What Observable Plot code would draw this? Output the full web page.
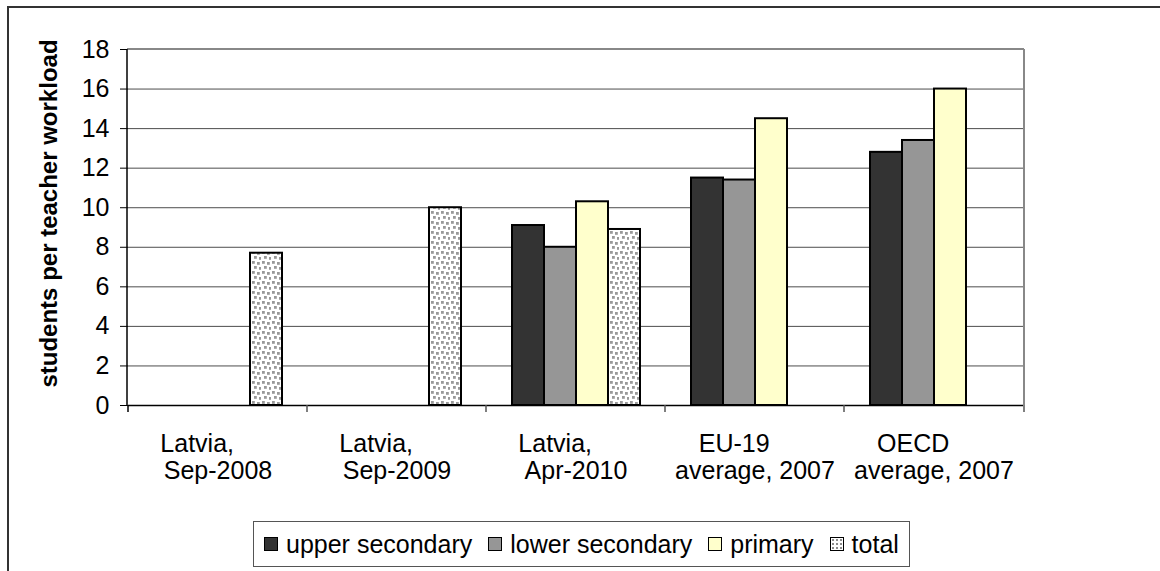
<!DOCTYPE html>
<html><head><meta charset="utf-8">
<script src="https://cdn.jsdelivr.net/npm/d3@7"></script>
<script src="https://cdn.jsdelivr.net/npm/@observablehq/plot@0.6"></script>
<style>
html,body{margin:0;padding:0;background:#fff;overflow:hidden;width:1160px;height:571px;}
body{font-family:"Liberation Sans",Arial,sans-serif;position:relative;color:#000;}
#chart{position:absolute;left:0;top:0;}
#outer{position:absolute;left:7px;top:6px;width:1300px;height:700px;border:2px solid #333;box-sizing:border-box;pointer-events:none;}
#legend{position:absolute;left:253px;top:521px;height:46px;box-sizing:border-box;border:1px solid #555;background:#fff;display:flex;align-items:center;padding:0 10px;font-size:25px;white-space:nowrap;}
#legend .item{display:flex;align-items:center;margin-right:16px;}
#legend .item:last-child{margin-right:0;}
#legend .sw{width:14px;height:14px;box-sizing:border-box;border:1.5px solid #000;margin-right:8px;}
</style></head><body>
<div id="chart"></div>
<div id="legend"></div>
<div id="outer"></div>
<script>
// ---- data ----
const categories = ["Latvia, Sep-2008", "Latvia, Sep-2009", "Latvia, Apr-2010", "EU-19 average, 2007", "OECD average, 2007"];
const labelLine1 = ["Latvia,", "Latvia,", "Latvia,", "EU-19", "OECD"];
const labelLine2 = ["Sep-2008", "Sep-2009", "Apr-2010", "average, 2007", "average, 2007"];
const series = ["upper secondary", "lower secondary", "primary", "total"];
const upperSecondary = [null, null, 9.1, 11.5, 12.8];
const lowerSecondary = [null, null, 8.0, 11.4, 13.4];
const primary = [null, null, 10.3, 14.5, 16.0];
const total = [7.7, 10.0, 8.9, null, null];
const yTicks = [0, 2, 4, 6, 8, 10, 12, 14, 16, 18];
const yLabel = "students per teacher workload";
const seriesFills = ["#333333", "#969696", "#ffffcc", "url(#dots)"];
const swatchCss = ["background:#333333", "background:#969696", "background:#ffffcc",
  "background-color:#fff;background-image:radial-gradient(#8c8c8c 1.2px, transparent 1.5px);background-size:4px 4px"];

const seriesValues = [upperSecondary, lowerSecondary, primary, total];
const rows = [];
categories.forEach((c, i) => series.forEach((s, j) => {
  const v = seriesValues[j][i];
  if (v != null) rows.push({category: c, series: s, value: v});
}));

const plot = Plot.plot({
  width: 1160, height: 515,
  marginLeft: 127, marginRight: 136, marginTop: 49, marginBottom: 110,
  style: {fontFamily: '"Liberation Sans", Arial, sans-serif', color: "#000", background: "transparent", overflow: "visible"},
  fx: {domain: categories, padding: 0},
  x: {domain: series, paddingInner: 0, paddingOuter: 0.7167, axis: null},
  y: {domain: [0, 18]},
  color: {domain: series, range: seriesFills},
  marks: [
    Plot.gridY(yTicks.filter(t => t > 0 && t < 18), {stroke: "#4d4d4d", strokeOpacity: 1, strokeWidth: 1}),
    Plot.barY(rows, {fx: "category", x: "series", y: "value", fill: "series", stroke: "#000", strokeWidth: 2}),
    Plot.ruleY([0], {stroke: "#000", strokeWidth: 1.5}),
    Plot.axisY({ticks: yTicks, tickSize: 8, tickPadding: 11, fontSize: 25, label: yLabel, labelArrow: "none", labelAnchor: "center", labelOffset: 89}),
    Plot.axisFx({anchor: "bottom", tickSize: 0, tickPadding: 27, fontSize: 25, label: null, lineHeight: 1.08,
      tickFormat: d => {
        const i = categories.indexOf(d);
        return labelLine1[i] + "\u00a0".repeat(6) + "\n" + labelLine2[i];
      }})
  ]
});
document.getElementById("chart").appendChild(plot);

// pattern for "total"
const svg = d3.select(plot);
const defs = svg.insert("defs", ":first-child");
const pat = defs.append("pattern").attr("id", "dots").attr("patternUnits", "userSpaceOnUse")
  .attr("width", 10).attr("height", 10);
pat.append("rect").attr("width", 10).attr("height", 10).attr("fill", "#fff");
[[1, 1], [6, 2], [3, 6], [8, 7]].forEach(([a, b]) =>
  pat.append("rect").attr("x", a).attr("y", b).attr("width", 2.8).attr("height", 2.8).attr("fill", "#999"));

// structural lines from scales
const fx = plot.scale("fx"), ys = plot.scale("y");
const [xa, xb] = fx.range;
const y0 = ys.apply(0), yTop = ys.apply(18);
const g = svg.append("g");
g.append("line").attr("x1", xa).attr("x2", xb).attr("y1", yTop).attr("y2", yTop).attr("stroke", "#888").attr("stroke-width", 2);
g.append("line").attr("x1", xb).attr("x2", xb).attr("y1", yTop).attr("y2", y0).attr("stroke", "#888").attr("stroke-width", 2);
g.append("line").attr("x1", xa).attr("x2", xa).attr("y1", yTop).attr("y2", y0).attr("stroke", "#000").attr("stroke-width", 1.5);
const bounds = categories.map(c => fx.apply(c)).concat([xb]);
bounds.forEach((bx, i) => g.append("line").attr("x1", bx).attr("x2", bx).attr("y1", y0).attr("y2", y0 + 7)
  .attr("stroke", i === 0 ? "#000" : "#555").attr("stroke-width", 1.5));

svg.selectAll('[aria-label="y-axis label"] text')
  .text(yLabel)
  .style("font-size", "24px").style("font-weight", "bold").attr("x", 14);

// legend
const leg = d3.select("#legend");
series.forEach((s, j) => {
  const it = leg.append("div").attr("class", "item");
  it.append("div").attr("class", "sw").attr("style", swatchCss[j]);
  it.append("span").text(s);
});
</script>
</body></html>
